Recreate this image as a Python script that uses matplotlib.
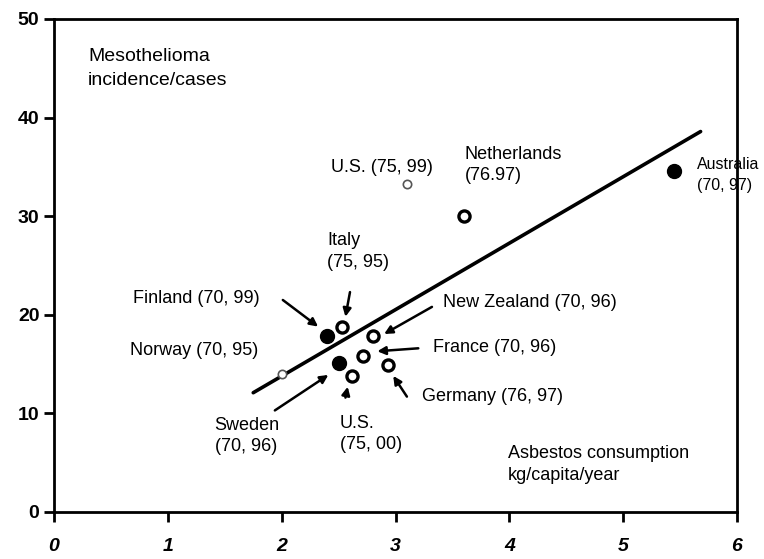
import matplotlib
matplotlib.use("Agg")
import matplotlib.pyplot as plt

# asbestos consumption (kg/capita/year) vs mesothelioma incidence
countries = ["Australia", "Netherlands", "U.S. 99", "Finland", "Italy",
             "New Zealand", "France", "Sweden", "U.S. 00", "Germany", "Norway"]
asbestos = [5.45, 3.6, 3.1, 2.4, 2.53, 2.8, 2.71, 2.5, 2.62, 2.93, 2.0]
incidence = [34.6, 30.0, 33.3, 17.8, 18.8, 17.8, 15.8, 15.1, 13.8, 14.9, 14.0]
filled = [True, False, False, True, False, False, False, True, False, False, False]

# regression line end points
fit_x = [1.75, 5.68]
fit_slope = 6.74
fit_icpt = 0.3

plt.rcParams['font.family'] = ['Liberation Sans', 'DejaVu Sans']

fig = plt.figure(figsize=(7.64, 5.59), dpi=100)
ax = fig.add_axes([0.0707, 0.0841, 0.894, 0.882])

ax.plot(fit_x, [fit_slope * v + fit_icpt for v in fit_x], color='black', lw=2.6,
        solid_capstyle='round', zorder=2)

for name, xv, yv, f in zip(countries, asbestos, incidence, filled):
    if f:
        ax.plot(xv, yv, 'o', ms=10, color='black', zorder=3)
    elif name in ("Norway", "U.S. 99"):
        ax.plot(xv, yv, 'o', ms=6, mfc='white', mec='#555555', mew=1.2, zorder=3)
    else:
        ax.plot(xv, yv, 'o', ms=8, mfc='white', mec='black', mew=2.4, zorder=3)

fs = 13
txt = dict(fontsize=fs, ha='left', va='center', linespacing=1.35)
ax.text(0.30, 45.0, "Mesothelioma\nincidence/cases", fontsize=14, ha='left',
        va='center', linespacing=1.5)
ax.text(3.99, 4.8, "Asbestos consumption\nkg/capita/year", **txt)
ax.text(0.69, 21.7, "Finland (70, 99)", **txt)
ax.text(2.40, 26.4, "Italy\n(75, 95)", **txt)
ax.text(3.42, 21.2, "New Zealand (70, 96)", **txt)
ax.text(3.33, 16.7, "France (70, 96)", **txt)
ax.text(3.23, 11.7, "Germany (76, 97)", **txt)
ax.text(2.51, 7.9, "U.S.\n(75, 00)", **txt)
ax.text(1.41, 7.7, "Sweden\n(70, 96)", **txt)
ax.text(0.67, 16.4, "Norway (70, 95)", **txt)
ax.text(2.43, 34.9, "U.S. (75, 99)", **txt)
ax.text(3.61, 35.2, "Netherlands\n(76.97)", **txt)
ax.text(5.65, 34.2, "Australia\n(70, 97)", clip_on=False, fontsize=11.5,
        ha='left', va='center', linespacing=1.5)

arrows = [((2.01, 21.5), (2.32, 18.8)),
          ((2.60, 22.3), (2.56, 19.8)),
          ((3.32, 20.8), (2.90, 18.05)),
          ((3.20, 16.6), (2.84, 16.3)),
          ((3.10, 11.7), (2.98, 13.8)),
          ((2.56, 11.6), (2.58, 12.7)),
          ((1.94, 10.3), (2.41, 13.9))]
for tail, head in arrows:
    ax.annotate('', xy=head, xytext=tail,
                arrowprops=dict(arrowstyle='-|>', color='black', lw=1.8,
                                mutation_scale=12, shrinkA=0, shrinkB=0))

ax.set_xlim(0, 6)
ax.set_ylim(0, 50)
ax.set_xticks(range(0, 7))
ax.set_yticks(range(0, 51, 10))
ax.tick_params(direction='out', length=7, width=2, labelsize=14)
ax.tick_params(axis='x', pad=12)
for lab in ax.get_xticklabels() + ax.get_yticklabels():
    lab.set_fontweight('bold')
for lab in ax.get_xticklabels():
    lab.set_fontstyle('italic')
for sp in ax.spines.values():
    sp.set_linewidth(2)

fig.savefig("out.png", dpi=100)
